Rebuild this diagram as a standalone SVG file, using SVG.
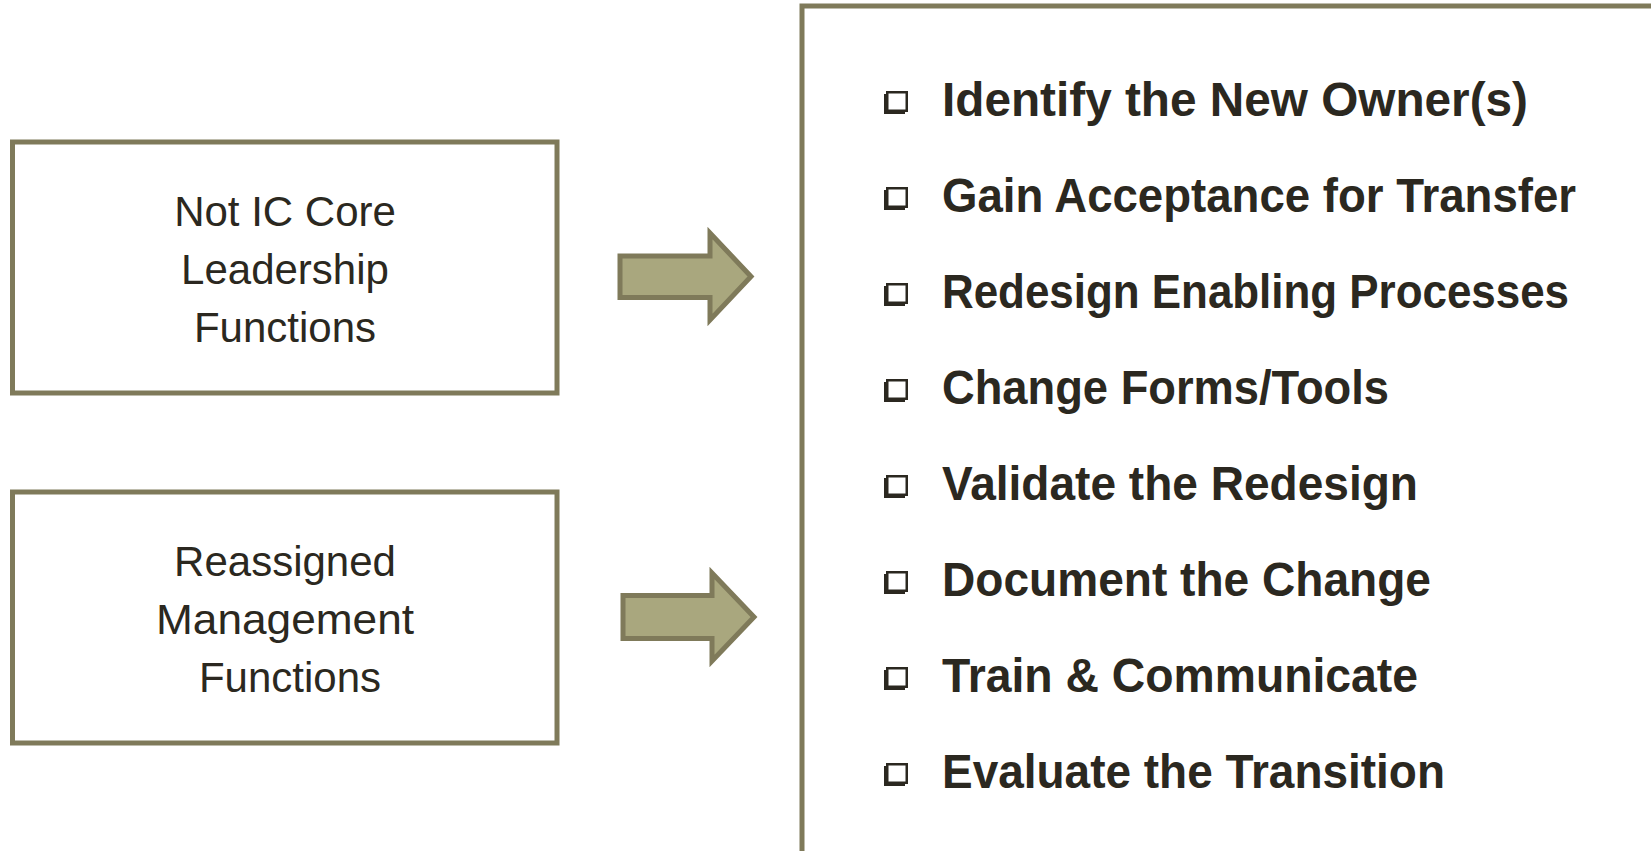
<svg xmlns="http://www.w3.org/2000/svg" width="1651" height="851" viewBox="0 0 1651 851">
  <style>
    .box { fill: #ffffff; stroke: #7f7a5a; stroke-width: 5; }
    .arrow { fill: #a9a77e; stroke: #7f7a5a; stroke-width: 5; stroke-linejoin: miter; }
    .lbl { font-family: "Liberation Sans", Arial, sans-serif; font-size: 42px; fill: #2b2820; text-anchor: middle; }
    .item { font-family: "Liberation Sans", Arial, sans-serif; font-size: 48px; font-weight: bold; fill: #2b2820; }
    .bul { fill: #ffffff; stroke: #2b2820; stroke-width: 2.5; }
    .bsh { fill: #2b2820; }
  </style>
  <defs>
    <g id="bullet">
      <rect class="bsh" x="-1" y="3" width="21" height="20"/>
      <rect class="bul" x="2.25" y="1.25" width="19.5" height="18.5"/>
    </g>
  </defs>
  <rect width="1651" height="851" fill="#ffffff"/>

  <g id="node-not-ic-core">
    <rect class="box" x="12.5" y="142" width="544.5" height="251"/>
    <text class="lbl" x="285" y="226">Not IC Core</text>
    <text class="lbl" x="285" y="284">Leadership</text>
    <text class="lbl" x="285" y="342">Functions</text>
  </g>

  <g id="node-reassigned">
    <rect class="box" x="12.5" y="492" width="544.5" height="251"/>
    <text class="lbl" x="285" y="576">Reassigned</text>
    <text class="lbl" x="285" y="634" textLength="258" lengthAdjust="spacingAndGlyphs">Management</text>
    <text class="lbl" x="290" y="692">Functions</text>
  </g>

  <g id="connectors">
    <path class="arrow" d="M620,256 L710,256 L710,233 L751,276.5 L710,320 L710,297.5 L620,297.5 Z"/>
    <path class="arrow" d="M623,595.5 L712,595.5 L712,573 L754,617 L712,661 L712,638.5 L623,638.5 Z"/>
  </g>

  <g id="node-steps">
    <rect class="box" x="802" y="6" width="870" height="870"/>
    <use href="#bullet" x="885" y="91"/>
    <text class="item" x="942" y="116" textLength="586" lengthAdjust="spacingAndGlyphs">Identify the New Owner(s)</text>
    <use href="#bullet" x="885" y="187"/>
    <text class="item" x="942" y="212" textLength="634" lengthAdjust="spacingAndGlyphs">Gain Acceptance for Transfer</text>
    <use href="#bullet" x="885" y="283"/>
    <text class="item" x="942" y="308" textLength="627" lengthAdjust="spacingAndGlyphs">Redesign Enabling Processes</text>
    <use href="#bullet" x="885" y="379"/>
    <text class="item" x="942" y="404" textLength="447" lengthAdjust="spacingAndGlyphs">Change Forms/Tools</text>
    <use href="#bullet" x="885" y="475"/>
    <text class="item" x="942" y="500" textLength="476" lengthAdjust="spacingAndGlyphs">Validate the Redesign</text>
    <use href="#bullet" x="885" y="571"/>
    <text class="item" x="942" y="596" textLength="489" lengthAdjust="spacingAndGlyphs">Document the Change</text>
    <use href="#bullet" x="885" y="667"/>
    <text class="item" x="942" y="692" textLength="476" lengthAdjust="spacingAndGlyphs">Train &amp; Communicate</text>
    <use href="#bullet" x="885" y="763"/>
    <text class="item" x="942" y="788" textLength="503" lengthAdjust="spacingAndGlyphs">Evaluate the Transition</text>
  </g>
</svg>
